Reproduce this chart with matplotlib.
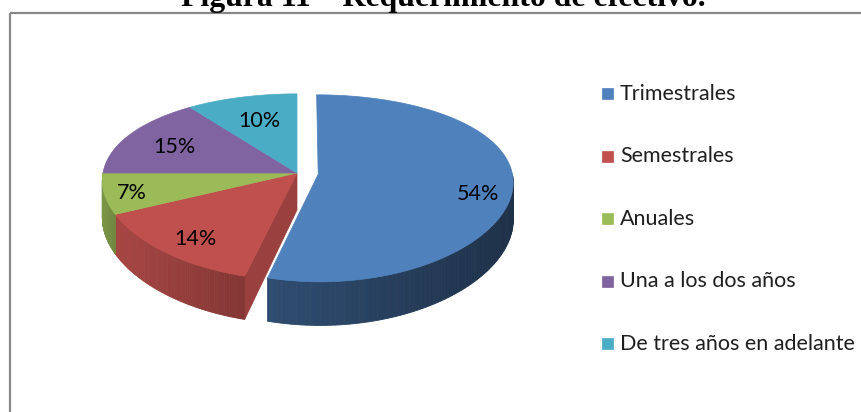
import numpy as np
import matplotlib
matplotlib.use("Agg")
import matplotlib.pyplot as plt
from matplotlib.patches import Polygon, Rectangle

# datos del grafico (requerimiento de efectivo)
categorias = ["Trimestrales", "Semestrales", "Anuales", "Una a los dos años",
              "De tres años en adelante"]
porcentajes = [54, 14, 7, 15, 10]
etiquetas = ["54%", "14%", "7%", "15%", "10%"]
titulo = "Figura 11 – Requerimiento de efectivo."

colores = ["#4F81BD", "#C0504D", "#9BBB59", "#8064A2", "#4BACC6"]
# degradado del lateral (izquierda -> derecha)
sombra = [(0.60, 0.38), (0.87, 0.68), (0.80, 0.72), (0.6, 0.6), (0.6, 0.6)]
separado = [0.11, 0, 0, 0, 0]
pos_etq = [0.82, 0.78, 0.86, 0.73, 0.66]
ajuste_y = [10, 6, 2, 3, 0]  # pequeno desplazamiento vertical de etiquetas

# geometria del pastel 3D (en pixeles de la figura)
cx, cy = 297, 173
rx, ry = 194, 91
persp_x, persp_y = 0.08, 0.15
grosor = 37


def proy(u, v):
    sx = 1.0 / (1.0 - persp_x * v)
    sy = 1.0 / (1.0 - persp_y * v)
    return cx + rx * u * sx, cy + ry * v * sy, sy


def oscurecer(c, f):
    r, g, b = matplotlib.colors.to_rgb(c)
    return (r * f, g * f, b * f)


fig = plt.figure(figsize=(8.62, 4.12), dpi=100)
ax = fig.add_axes([0, 0, 1, 1])
ax.set_xlim(0, 862)
ax.set_ylim(412, 0)
ax.axis("off")

# marco
ax.add_patch(Rectangle((10, 13), 900, 450, fill=False, edgecolor="#878787", lw=1.6))
fig.text(443 / 862, 1 - 6 / 412, titulo, ha="center", va="baseline",
         family="Liberation Serif", weight="bold", fontsize=22.9, color="black")

total = float(sum(porcentajes))
bordes = np.concatenate([[0], np.cumsum(porcentajes)]) / total * 360.0

caras, lados, tapas = [], [], []
for i in range(len(porcentajes)):
    a0, a1 = bordes[i], bordes[i + 1]
    am = np.radians((a0 + a1) / 2)
    ou, ov = separado[i] * np.sin(am), -separado[i] * np.cos(am)

    # cara superior
    t = np.radians(np.linspace(a0, a1, 120))
    pts = [proy(ou, ov)[:2]] + [proy(ou + np.sin(k), ov - np.cos(k))[:2] for k in t]
    tapas.append(Polygon(pts, closed=True, facecolor=colores[i],
                         edgecolor=colores[i], lw=0.5))

    # caras radiales visibles junto a un hueco
    prev_sep = separado[i - 1] if i > 0 else separado[-1]
    next_sep = separado[(i + 1) % len(separado)]
    for ang, signo, vecino in [(a0, -1, prev_sep), (a1, 1, next_sep)]:
        if separado[i] == 0 and vecino == 0:
            continue
        if signo * np.sin(np.radians(ang)) <= 0.01:
            continue
        ar = np.radians(ang)
        x0, y0, s0 = proy(ou, ov)
        x1, y1, s1 = proy(ou + np.sin(ar), ov - np.cos(ar))
        quad = [(x0, y0), (x1, y1), (x1, y1 + grosor * s1), (x0, y0 + grosor * s0)]
        col = oscurecer(colores[i], 0.80)
        caras.append(Polygon(quad, closed=True, facecolor=col, edgecolor=col, lw=0.5))

    # lateral exterior (solo la mitad frontal)
    b0, b1 = max(a0, 90), min(a1, 270)
    if b1 > b0:
        tt = np.radians(np.linspace(b0, b1, 80))
        top = [proy(ou + np.sin(k), ov - np.cos(k)) for k in tt]
        xs = [p[0] for p in top]
        xmin, xmax = min(xs), max(xs)
        claro, oscuro = sombra[i]
        for k in range(len(top) - 1):
            (xa, ya, sa), (xb, yb, sb) = top[k], top[k + 1]
            xm = (xa + xb) / 2
            f = claro + (oscuro - claro) * (xm - xmin) / max(xmax - xmin, 1)
            col = oscurecer(colores[i], f)
            quad = [(xa, ya), (xb, yb), (xb, yb + grosor * sb), (xa, ya + grosor * sa)]
            lados.append(Polygon(quad, closed=True, facecolor=col, edgecolor=col, lw=0.6))

    # etiqueta de porcentaje
    r = pos_etq[i]
    lx, ly, _ = proy(ou + r * np.sin(am), ov - r * np.cos(am))
    ax.text(lx, ly + ajuste_y[i], etiquetas[i], ha="center", va="center", family="Lato",
            fontsize=15.5, color="black", zorder=5)

for p in caras + lados + tapas:
    ax.add_patch(p)

# leyenda
for i, nombre in enumerate(categorias):
    yc = 93.5 + i * 62.5
    ax.add_patch(Rectangle((602, yc - 5.5), 11, 11, facecolor=colores[i],
                           edgecolor=colores[i], lw=0.5))
    ax.text(620, yc, nombre, ha="left", va="center", family="Lato",
            fontsize=15.5, color="#1F1F1F")

fig.savefig("out.png", dpi=100)
